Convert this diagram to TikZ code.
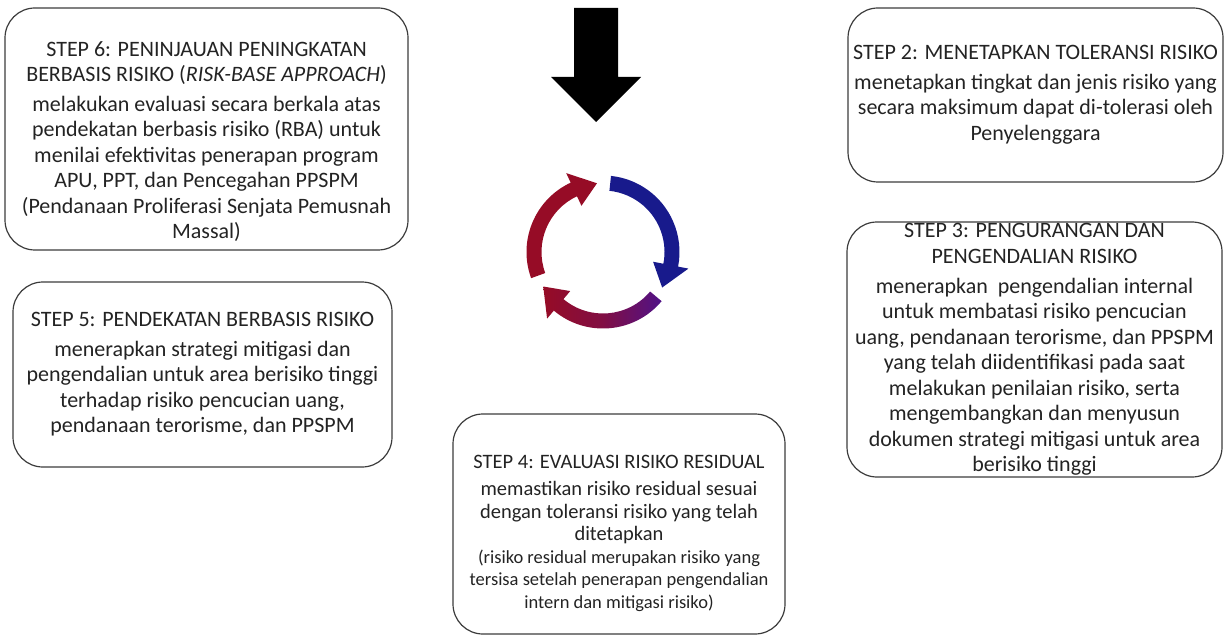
\documentclass[tikz,border=0pt]{standalone}
\usepackage{fontspec}
\setmainfont{Carlito}
\usepackage{tikz}
\usetikzlibrary{positioning, calc, arrows.meta}
\definecolor{boxline}{RGB}{60, 60, 60}
\definecolor{boxtext}{RGB}{35, 35, 35}
\definecolor{cycred}{RGB}{150, 12, 38}
\definecolor{cycblue}{RGB}{24, 26, 140}
\definecolor{cycpurple}{RGB}{80, 18, 135}
\newcommand{\notesize}{\fontsize{18.5}{20.5}\selectfont}
% one arc of the cycle: start angle, tip angle
\newcommand{\cyclearrow}[3]{%
  \path[#3] (#1:76.5) arc[start angle=#1, end angle={#2-20}, radius=76.5]
    -- ({#2-20}:87) -- (#2:69) -- ({#2-20}:51) -- ({#2-20}:61.5)
    arc[start angle={#2-20}, end angle=#1, radius=61.5] -- cycle;}

\begin{document}
\begin{tikzpicture}[x=1pt, y=-1pt, every node/.style={font=\fontsize{22}{25.5}\selectfont, text=boxtext}]
    \tikzstyle{stepbox} = [draw=boxline, line width=1.2pt, rectangle, rounded corners=30pt, align=center, inner sep=0pt]
    \useasboundingbox (0,0) rectangle (1225,636);

    % Nodes
    \node (step6) [stepbox, minimum width=403pt, minimum height=242pt] at (206.5,129) {\rule{0pt}{40pt}STEP 6: PENINJAUAN PENINGKATAN\\ BERBASIS RISIKO (\textit{RISK-BASE APPROACH})\\[4pt] melakukan evaluasi secara berkala atas\\ pendekatan berbasis risiko (RBA) untuk\\ menilai efektivitas penerapan program\\ APU, PPT, dan Pencegahan PPSPM\\ (Pendanaan Proliferasi Senjata Pemusnah\\ Massal)};
    \node (step2) [stepbox, minimum width=375pt, minimum height=174pt] at (1035.5,95) {STEP 2: MENETAPKAN TOLERANSI RISIKO\\[4pt] menetapkan tingkat dan jenis risiko yang\\ secara maksimum dapat di-tolerasi oleh\\ Penyelenggara};
    \node (step3) [stepbox, minimum width=375pt, minimum height=255pt] at (1034.5,349.5) {STEP 3: PENGURANGAN DAN\\ PENGENDALIAN RISIKO\\[4pt] menerapkan\ \ pengendalian internal\\ untuk membatasi risiko pencucian\\ uang, pendanaan terorisme, dan PPSPM\\ yang telah diidentifikasi pada saat\\ melakukan penilaian risiko, serta\\ mengembangkan dan menyusun\\ dokumen strategi mitigasi untuk area\\ berisiko tinggi};
    \node (step5) [stepbox, minimum width=379pt, minimum height=185pt] at (202.5,374.5) {STEP 5: PENDEKATAN BERBASIS RISIKO\\[4pt] menerapkan strategi mitigasi dan\\ pengendalian untuk area berisiko tinggi\\ terhadap risiko pencucian uang,\\ pendanaan terorisme, dan PPSPM};
    \node (step4) [stepbox, minimum width=332pt, minimum height=220pt, font=\fontsize{20.5}{22.5}\selectfont] at (619,524) {\rule{0pt}{32pt}STEP 4: EVALUASI RISIKO RESIDUAL\\[5pt] memastikan risiko residual sesuai\\ dengan toleransi risiko yang telah\\ ditetapkan\\ \notesize (risiko residual merupakan risiko yang\\ \notesize tersisa setelah penerapan pengendalian\\ \notesize intern dan mitigasi risiko)};

    % Arrows
    \fill[black] (574,8) -- (618,8) -- (618,77) -- (641,77) -- (596,122) -- (551,77) -- (574,77) -- cycle;
    \begin{scope}[shift={(603,252)}]
        \cyclearrow{-84}{31}{fill=cycblue}
        \cyclearrow{-200}{-95}{fill=cycred}
        \cyclearrow{40}{150}{left color=cycred, right color=cycpurple, middle color=cycred!70!cycpurple}
    \end{scope}
\end{tikzpicture}
\end{document}
